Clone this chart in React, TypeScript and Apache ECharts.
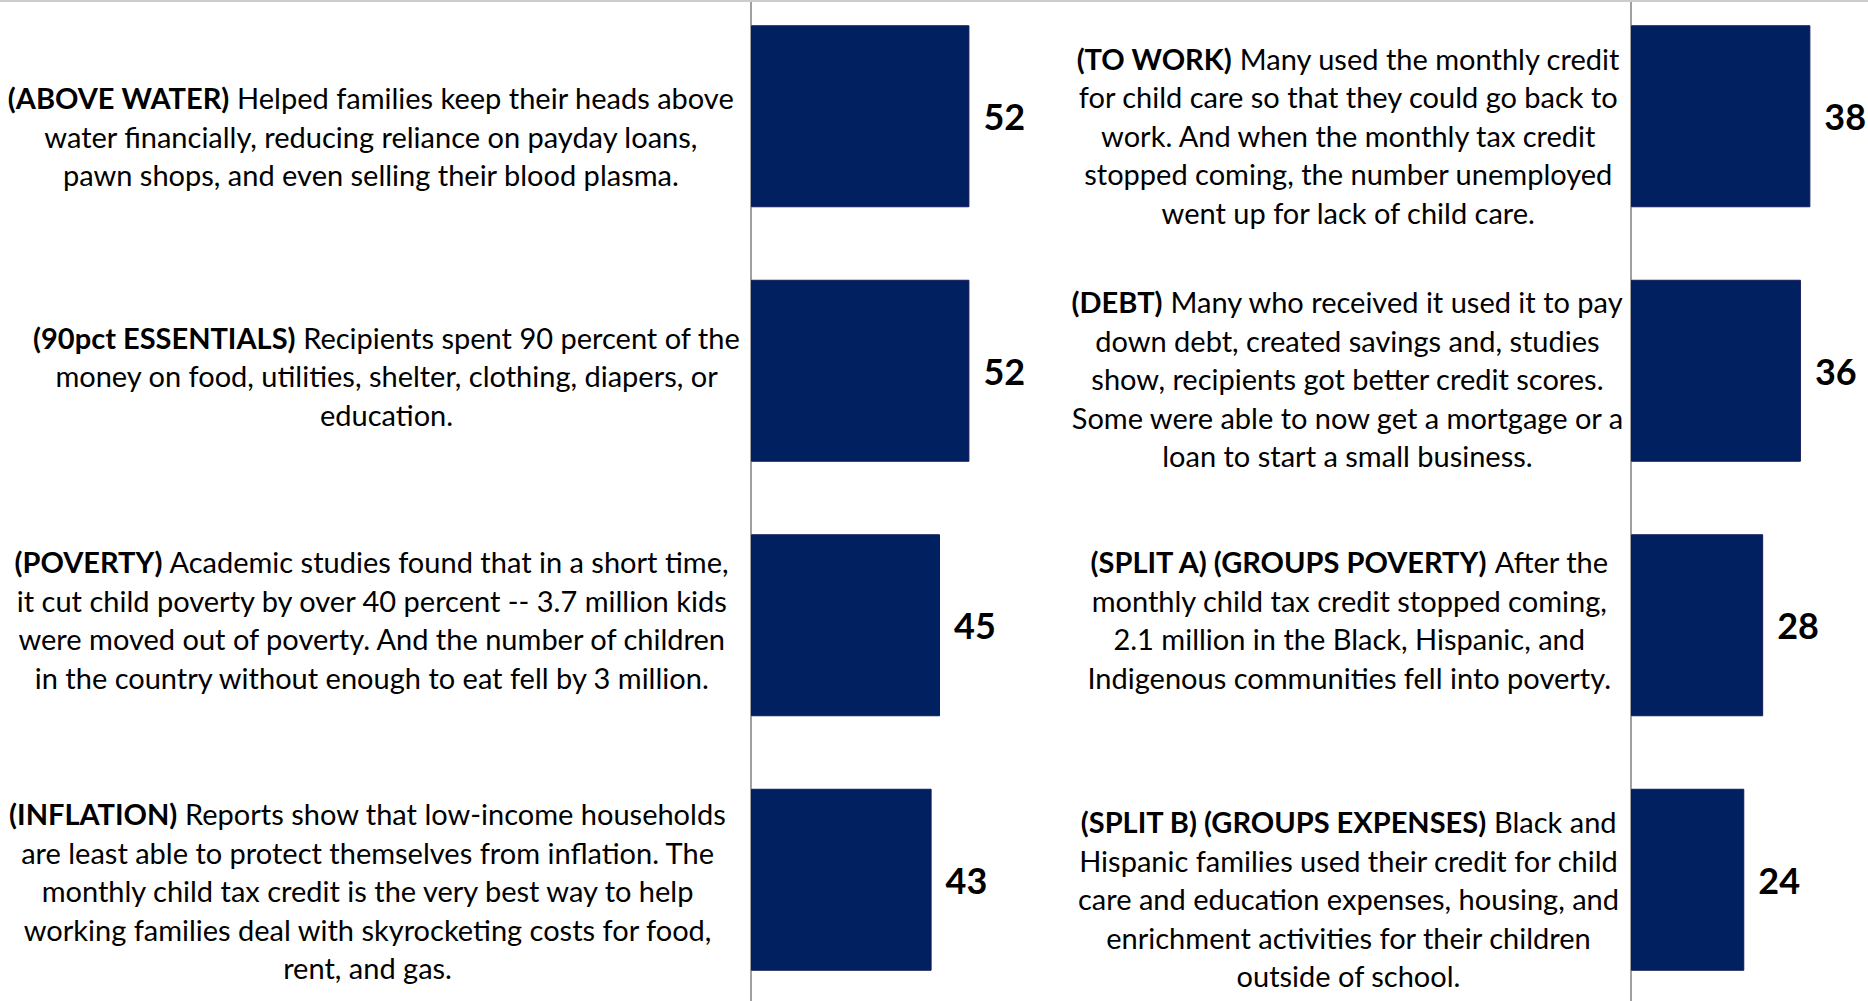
import React, { useEffect, useRef } from "react";
import * as echarts from "echarts";

const leftCategories = [
  "(ABOVE WATER) Helped families keep their heads above\nwater financially, reducing reliance on payday loans,\npawn shops, and even selling their blood plasma.",
  "(90pct ESSENTIALS) Recipients spent 90 percent of the\nmoney on food, utilities, shelter, clothing, diapers, or\neducation.",
  "(POVERTY) Academic studies found that in a short time,\nit cut child poverty by over 40 percent -- 3.7 million kids\nwere moved out of poverty. And the number of children\nin the country without enough to eat fell by 3 million.",
  "(INFLATION) Reports show that low-income households\nare least able to protect themselves from inflation. The\nmonthly child tax credit is the very best way to help\nworking families deal with skyrocketing costs for food,\nrent, and gas.",
];
const leftValues = [52, 52, 45, 43];

const rightCategories = [
  "(TO WORK) Many used the monthly credit\nfor child care so that they could go back to\nwork. And when the monthly tax credit\nstopped coming, the number unemployed\nwent up for lack of child care.",
  "(DEBT) Many who received it used it to pay\ndown debt, created savings and, studies\nshow, recipients got better credit scores.\nSome were able to now get a mortgage or a\nloan to start a small business.",
  "(SPLIT A) (GROUPS POVERTY) After the\nmonthly child tax credit stopped coming,\n2.1 million in the Black, Hispanic, and\nIndigenous communities fell into poverty.",
  "(SPLIT B) (GROUPS EXPENSES) Black and\nHispanic families used their credit for child\ncare and education expenses, housing, and\nenrichment activities for their children\noutside of school.",
];
const rightValues = [38, 36, 28, 24];

// label placement tweaks (px): vertical shift and right inset
const leftLabelShift = [20, 5, -6, 11];
const rightLabelShift = [19, 8, -6, 19];
const leftLabelInset = [6, 0, 11, 14];
const rightLabelInset = [4, 0, 13, 5];

const FONT = "Lato";
const LABEL_SIZE = 29;
const LINE_H = 38.5;

function fmt(v: string): string {
  return v
    .split("\n")
    .map((line, i) => {
      if (i === 0) {
        const m = line.match(/^((?:\([^)]*\)\s*)+)(.*)$/);
        if (m) return `{b|${m[1].trim()}}{n| ${m[2]}}`;
      }
      return `{n|${line}}`;
    })
    .join("\n");
}

function catData(cats: string[], shifts: number[], insets: number[]) {
  return cats.map((c, i) => ({
    value: c,
    textStyle: {
      padding: [Math.max(2 * shifts[i], 0), insets[i], Math.max(-2 * shifts[i], 0), 0],
    },
  }));
}

const richStyles = {
  b: { fontFamily: FONT, fontSize: LABEL_SIZE, fontWeight: "bold", lineHeight: LINE_H, align: "center", color: "#000" },
  n: { fontFamily: FONT, fontSize: LABEL_SIZE, fontWeight: "normal", lineHeight: LINE_H, align: "center", color: "#000" },
};

export default function App() {
  const ref = useRef<HTMLDivElement>(null);
  useEffect(() => {
    if (!ref.current) return;
    const chart = echarts.init(ref.current, null, { renderer: "svg" });
    const yAxisCommon = {
      type: "category",
      inverse: true,
      axisLine: { show: true, lineStyle: { color: "#a0a0a0", width: 2 } },
      axisTick: { show: false },
      splitLine: { show: false },
    };
    const barCommon = {
      type: "bar",
      barWidth: 182,
      itemStyle: { color: "#002060", borderColor: "#14185a", borderWidth: 1 },
      label: {
        show: true,
        position: "right",
        distance: 14,
        fontFamily: FONT,
        fontSize: 36,
        fontWeight: "bold",
        color: "#000",
      },
    };
    chart.setOption({
      animation: false,
      backgroundColor: "#ffffff",
      grid: [
        { left: 751, top: -11, width: 252, height: 1018, containLabel: false, outerBoundsMode: "none" },
        { left: 1631, top: -11, width: 236, height: 1018, containLabel: false, outerBoundsMode: "none" },
      ],
      xAxis: [
        { type: "value", gridIndex: 0, min: 0, max: 60, show: false },
        { type: "value", gridIndex: 1, min: 0, max: 50, show: false },
      ],
      yAxis: [
        {
          ...yAxisCommon,
          gridIndex: 0,
          data: catData(leftCategories, leftLabelShift, leftLabelInset),
          axisLabel: { interval: 0, margin: 11, formatter: fmt, rich: richStyles, fontFamily: FONT, fontSize: LABEL_SIZE },
        },
        {
          ...yAxisCommon,
          gridIndex: 1,
          data: catData(rightCategories, rightLabelShift, rightLabelInset),
          axisLabel: { interval: 0, margin: 7, formatter: fmt, rich: richStyles, fontFamily: FONT, fontSize: LABEL_SIZE },
        },
      ],
      series: [
        { ...barCommon, xAxisIndex: 0, yAxisIndex: 0, data: leftValues },
        { ...barCommon, xAxisIndex: 1, yAxisIndex: 1, data: rightValues },
      ],
      graphic: [
        { type: "rect", z: 100, shape: { x: 0, y: 0, width: 1868, height: 2 }, style: { fill: "#cccccc" } },
      ],
    });
    return () => chart.dispose();
  }, []);
  return (
    <div
      ref={ref}
      style={{ position: "absolute", left: 0, top: 0, width: 1868, height: 1001 }}
    />
  );
}
